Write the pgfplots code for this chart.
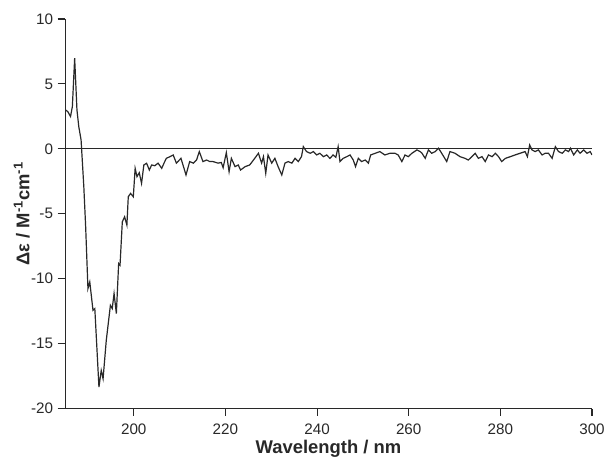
\documentclass[border=0pt]{standalone}
\usepackage{pgfplots}
\pgfplotsset{compat=1.18}
\usepackage{fontspec}
\setmainfont{Liberation Sans}

\begin{document}
\begin{tikzpicture}
\definecolor{linegray}{RGB}{40,40,40}
\begin{axis}[
  scale only axis,
  width=395pt, height=292pt,
  xmin=185, xmax=300,
  ymin=-20, ymax=10,
  axis lines=left,
  axis line style={-, line width=0.8pt, linegray},
  tick align=outside,
  major tick length=5.5pt,
  tick style={line width=0.8pt, linegray},
  xtick={200,220,240,260,280,300},
  xticklabels={200,220,240,260,280,300},
  ytick={-20,-15,-10,-5,0,5,10},
  yticklabels={-20,-15,-10,-5,0,5,10},
  ticklabel style={font=\fontsize{11.4}{13}\selectfont, text=linegray},
  xticklabel style={yshift=-2.5pt},
  xlabel={Wavelength / nm},
  ylabel={Δε / M\textsuperscript{-1}cm\textsuperscript{-1}},
  label style={font=\fontsize{13.8}{16}\selectfont\bfseries, text=linegray},
  xlabel style={yshift=2.5pt},
  ylabel style={yshift=-6pt},
]
\coordinate (SW) at (rel axis cs:0,0);
\coordinate (NE) at (rel axis cs:1,1);

% zero line
\addplot [linegray, line width=0.8pt] coordinates {(185,0) (300,0)};

% CD spectrum
\addplot [linegray, line width=0.9pt] table {
185.1 3.00
185.6 2.87
186.2 2.49
186.6 3.26
187.1 6.99
187.6 3.00
188.0 1.71
188.5 0.69
189.1 -2.92
189.5 -6.00
190.0 -10.76
190.4 -10.25
191.1 -12.43
191.5 -12.30
192.4 -18.35
192.9 -17.06
193.3 -17.70
194.0 -14.75
194.9 -12.05
195.3 -12.30
195.7 -11.14
196.2 -12.69
196.7 -8.83
197.0 -8.96
197.5 -5.62
198.0 -5.23
198.5 -5.87
198.8 -3.69
199.3 -3.43
199.9 -3.69
200.3 -1.50
200.7 -2.14
201.2 -1.84
201.7 -2.66
202.2 -1.24
202.8 -1.11
203.4 -1.63
203.9 -1.24
204.6 -1.30
205.3 -1.10
206.1 -1.50
206.6 -1.10
207.1 -0.73
207.9 -0.60
208.6 -0.47
209.3 -1.10
210.3 -0.73
211.4 -2.01
212.2 -0.98
213.0 -1.10
213.7 -0.86
214.3 -0.21
215.1 -0.98
215.9 -0.86
216.6 -0.98
217.3 -0.98
218.4 -1.10
219.1 -1.05
219.5 -1.45
220.2 -0.29
220.8 -1.76
221.3 -0.73
222.1 -1.37
222.8 -1.24
223.3 -1.63
224.3 -1.37
225.3 -1.24
226.4 -0.73
227.2 -0.34
227.9 -1.10
228.3 -0.60
228.8 -1.88
229.3 -0.47
230.1 -1.10
230.8 -0.73
231.5 -1.37
232.3 -2.01
233.0 -1.10
233.7 -0.98
234.5 -1.10
235.2 -0.73
235.9 -0.98
236.6 -0.60
237.0 0.17
237.7 -0.21
238.5 -0.34
239.2 -0.21
239.9 -0.47
240.6 -0.34
241.4 -0.60
242.1 -0.47
242.8 -0.73
243.5 -0.47
244.1 -0.65
244.6 0.17
245.0 -0.98
245.7 -0.73
246.5 -0.60
247.2 -0.47
247.9 -0.86
248.4 -1.37
249.0 -0.73
249.7 -0.98
250.5 -0.86
251.2 -1.10
251.7 -0.47
252.7 -0.34
253.7 -0.21
254.8 -0.47
255.9 -0.34
257.0 -0.34
257.7 -0.47
258.5 -0.98
259.2 -0.47
259.9 -0.60
260.7 -0.34
261.8 -0.08
262.5 -0.21
262.9 -0.34
263.6 -0.73
264.3 -0.08
265.0 -0.34
265.8 -0.21
266.5 0.05
267.2 -0.34
268.3 -0.98
269.0 -0.21
270.1 -0.34
271.2 -0.60
272.3 -0.73
273.0 -0.86
273.8 -0.60
274.5 -0.34
275.2 -0.73
276.0 -0.60
276.7 -0.98
277.4 -0.47
278.2 -0.60
278.9 -0.34
279.6 -0.60
280.3 -0.98
281.1 -0.73
282.2 -0.60
283.2 -0.47
284.3 -0.34
285.4 -0.21
285.9 -0.60
286.4 0.30
286.9 -0.08
287.6 -0.21
288.3 -0.08
289.1 -0.47
289.8 -0.34
290.5 -0.34
291.3 -0.73
292.0 0.17
292.7 -0.21
293.5 -0.34
294.2 -0.08
294.9 -0.21
295.3 0.05
296.0 -0.47
296.8 -0.08
297.4 -0.34
298.2 -0.08
298.9 -0.34
299.6 -0.21
300.0 -0.47
};
\end{axis}
\pgfresetboundingbox
\path[use as bounding box] ([shift={(-48.75pt,-36pt)}]SW) rectangle ([shift={(10.5pt,14.25pt)}]NE);
\end{tikzpicture}
\end{document}
